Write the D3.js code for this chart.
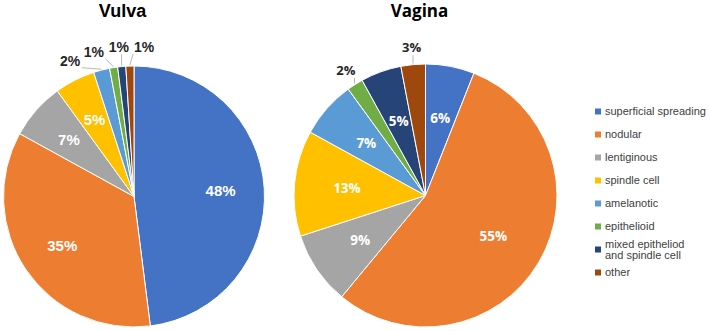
<!DOCTYPE html>
<html>
<head>
<meta charset="utf-8">
<script src="https://cdn.jsdelivr.net/npm/d3@7"></script>
<style>
  html, body { margin: 0; padding: 0; background: #fff; }
  svg { display: block; }
</style>
</head>
<body>
<svg id="chart" width="710" height="331"></svg>
<script>
// ---- data ----
const categories = ["superficial spreading", "nodular", "lentiginous", "spindle cell",
  "amelanotic", "epithelioid", "mixed epitheliod and spindle cell", "other"];
const legendLines = [["superficial spreading"], ["nodular"], ["lentiginous"], ["spindle cell"],
  ["amelanotic"], ["epithelioid"], ["mixed epitheliod", "and spindle cell"], ["other"]];
const vulvaValues = [48, 35, 7, 5, 2, 1, 1, 1];
const vaginaValues = [6, 55, 9, 13, 7, 2, 5, 3];
const chartTitles = ["Vulva", "Vagina"];
const colors = ["#4472C4", "#ED7D31", "#A5A5A5", "#FFC000", "#5B9BD5", "#70AD47", "#264478", "#9E480E"];

const svg = d3.select("#chart");
const color = d3.scaleOrdinal().domain(categories).range(colors);
const pie = d3.pie().sort(null).value(d => d.value);

function drawPie(values, o) {
  const data = values.map((v, i) => ({ cat: categories[i], value: v }));
  const arcs = pie(data);
  const g = svg.append("g").attr("transform", `translate(${o.cx},${o.cy})`);
  const arc = d3.arc().innerRadius(0).outerRadius(o.r);

  g.selectAll("path.slice").data(arcs).enter().append("path")
    .attr("class", "slice")
    .attr("d", arc)
    .attr("fill", d => color(d.data.cat))
    .attr("stroke", "#fff")
    .attr("stroke-width", 1);

  // title
  svg.append("text")
    .attr("x", o.titleX).attr("y", o.titleY)
    .attr("text-anchor", "middle")
    .attr("font-family", o.titleFont)
    .attr("font-weight", "bold")
    .attr("font-size", o.titleSize)
    .attr("fill", "#000")
    .text(o.title);

  // inside labels
  const inArc = d3.arc().innerRadius(o.r * o.inRatio).outerRadius(o.r * o.inRatio);
  const inside = arcs.filter(d => d.data.value > o.outsideMax);
  g.selectAll("text.in").data(inside).enter().append("text")
    .attr("class", "in")
    .attr("transform", d => `translate(${inArc.centroid(d)})`)
    .attr("text-anchor", "middle")
    .attr("dy", "0.36em")
    .attr("font-family", o.labelFont)
    .attr("font-weight", "bold")
    .attr("font-size", o.inSize)
    .attr("fill", "#fff")
    .text(d => d.data.value + "%");

  // outside labels with simple angular spreading
  const outside = arcs.filter(d => d.data.value <= o.outsideMax)
    .map(d => ({ d, a: (d.startAngle + d.endAngle) / 2 }));
  outside.sort((p, q) => p.a - q.a);
  const sep = o.minSep * Math.PI / 180;
  let needs = false;
  for (let i = 1; i < outside.length; i++) if (outside[i].a - outside[i - 1].a < sep) needs = true;
  if (needs) {
    const mean = d3.mean(outside, p => p.a);
    const n = outside.length;
    outside.forEach((p, i) => { p.a = mean + (i - (n - 1) / 2) * sep + o.spreadShift * Math.PI / 180; });
  }
  const R = o.r * o.outRatio;
  outside.forEach(p => {
    const x = R * Math.sin(p.a), y = -R * Math.cos(p.a);
    const t = g.append("text")
      .attr("x", x).attr("y", y)
      .attr("text-anchor", "middle")
      .attr("dy", "0.36em")
      .attr("font-family", o.labelFont)
      .attr("font-weight", "bold")
      .attr("font-size", o.outSize)
      .attr("fill", "#262626")
      .text(p.d.data.value + "%");
    const b = t.node().getBBox();
    const ma = (p.d.startAngle + p.d.endAngle) / 2;
    const ex = (o.r + 1) * Math.sin(ma), ey = -(o.r + 1) * Math.cos(ma);
    const bx0 = b.x - 1, bx1 = b.x + b.width + 1, by0 = b.y + 2, by1 = b.y + b.height - 1;
    const sx = Math.max(bx0, Math.min(bx1, ex));
    const sy = Math.max(by0, Math.min(by1, ey));
    g.insert("line", "text")
      .attr("x1", sx).attr("y1", sy).attr("x2", ex).attr("y2", ey)
      .attr("stroke", "#a6a6a6").attr("stroke-width", 0.8);
  });
}

drawPie(vulvaValues, {
  cx: 134, cy: 196.5, r: 130.5, title: chartTitles[0], titleX: 122.5, titleY: 16.5,
  titleFont: "'Liberation Sans', Arial, sans-serif", titleSize: 18,
  labelFont: "'Liberation Sans', Arial, sans-serif", inSize: 15, outSize: 14,
  inRatio: 0.665, outRatio: 1.15, outsideMax: 3, minSep: 9.7, spreadShift: -3
});

drawPie(vaginaValues, {
  cx: 425.5, cy: 195.5, r: 131.5, title: chartTitles[1], titleX: 419.5, titleY: 17,
  titleFont: "'Open Sans', sans-serif", titleSize: 17,
  labelFont: "'Open Sans', sans-serif", inSize: 13.5, outSize: 13,
  inRatio: 0.6, outRatio: 1.13, outsideMax: 3, minSep: 9.7, spreadShift: 0
});

// legend
const legend = svg.append("g");
const ly = d3.scaleLinear().domain([0, categories.length - 1]).range([111.5, 272.5]);
categories.forEach((c, i) => {
  const y = ly(i);
  legend.append("rect")
    .attr("x", 595).attr("y", y - 3).attr("width", 6).attr("height", 6)
    .attr("fill", color(c));
  const lines = legendLines[i];
  const t = legend.append("text")
    .attr("font-family", "'Liberation Sans', Arial, sans-serif")
    .attr("font-size", 11)
    .attr("fill", "#404040");
  lines.forEach((ln, k) => {
    t.append("tspan")
      .attr("x", 605)
      .attr("y", y + (k - (lines.length - 1) / 2) * 11)
      .attr("dy", "0.35em")
      .text(ln);
  });
});
</script>
</body>
</html>
